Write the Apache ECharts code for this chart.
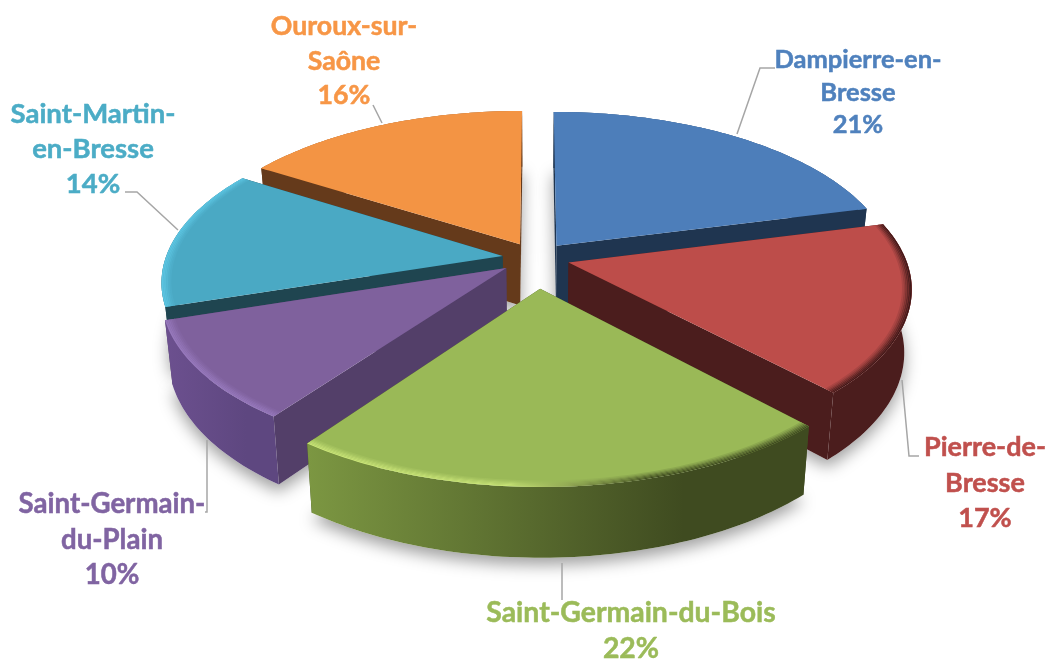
<!DOCTYPE html>
<html><head><meta charset="utf-8">
<style>html,body{margin:0;padding:0;background:#fff}#c{width:1051px;height:661px}</style>
<script src="https://cdn.jsdelivr.net/npm/echarts@6/dist/echarts.min.js"></script>
</head><body><div id="c"></div>
<script>
// ---- data ----
var categories = ['Dampierre-en-\nBresse', 'Pierre-de-\nBresse', 'Saint-Germain-du-Bois', 'Saint-Germain-\ndu-Plain', 'Saint-Martin-\nen-Bresse', 'Ouroux-sur-\nSaône'];
var values = [21, 17, 22, 10, 14, 16];
var explode = [0.1, 0.1, 0.19, 0.108, 0.1, 0.1];

// ---- colours ----
var topColors  = ['#4D7EBA', '#BD4D4A', '#9AB957', '#7F619D', '#4AA9C4', '#F39444'];
var sideColors = ['#1F3550', '#4B1D1D', '#414D21', '#533F69', '#1F4550', '#653A1B'];
var wallLeft   = ['#1F3550', '#4B1D1D', '#7C9742', '#6C508F', '#1F4550', '#653A1B'];
var wallRight  = ['#1F3550', '#4B1D1D', '#3F4B20', '#5E4780', '#3E93AB', '#653A1B'];
var rimLight   = ['#4D7EBA', '#BD4D4A', '#C8E377', '#9678BC', '#5CC5E2', '#F39444'];
var rimDark    = ['#4D7EBA', '#3F1818', '#3F4B20', '#533F69', '#1F4550', '#F39444'];
var labelColors = ['#4F81BD', '#C0504D', '#9BBB59', '#8064A2', '#4BACC6', '#F79646'];
var leaderColor = '#A6A6A6';

// ---- layout ----
var labelAt = [[858, 92.5], [985, 483], [631, 631], [112, 540], [93, 149], [344, 61]];
var labelFont = [25.5, 27, 28.4, 27.6, 27.5, 26.7];
var labelLine = [32.5, 35.5, 36, 35.5, 35, 34.5];
var leaders = [
  [[737, 134], [760, 68], [775, 68]],
  [[902, 380], [909, 456], [919, 456]],
  [[562, 563], [562, 600]],
  [[207, 440], [207, 512], [205, 512]],
  [[178, 230], [137, 192], [125, 192]],
  [[382, 123], [373, 105]]
];
var CX = 536, CY = 258, RX = 337, RY = 157.6, DEPTH = 6.57, H = 63, KZ = 0.02;
var RIM = 0.028, RIM_STRIPS = [0.15, 0.3, 0.5, 0.7, 0.85, 1];

// ---- geometry helpers ----
var total = values.reduce(function (a, b) { return a + b; }, 0);
var starts = [], acc = 0;
values.forEach(function (v) { starts.push(acc / total * Math.PI * 2); acc += v; });
function endAngle(i) { return starts[i] + values[i] / total * Math.PI * 2; }
function midAngle(i) { return (starts[i] + endAngle(i)) / 2; }
function world(i, a, r) {
  var m = midAngle(i);
  return [explode[i] * Math.sin(m) + r * Math.sin(a), -explode[i] * Math.cos(m) - r * Math.cos(a)];
}
function project(p, z) {
  var s = DEPTH / (DEPTH - p[1]) * (1 - KZ * z);
  return [CX + RX * p[0] * s, CY + RY * p[1] * s + H * z * s];
}
function pt(i, a, r, z) { return project(world(i, a, r), z); }
function arc(i, r, z) {
  var pts = [], a0 = starts[i], a1 = endAngle(i), n = Math.ceil((a1 - a0) / 0.02);
  for (var k = 0; k <= n; k++) pts.push(pt(i, a0 + (a1 - a0) * k / n, r, z));
  return pts;
}
function hex(c) { return [1, 3, 5].map(function (p) { return parseInt(c.substr(p, 2), 16); }); }
function mix(a, b, t) {
  var A = hex(a), B = hex(b);
  return 'rgb(' + A.map(function (v, j) { return Math.round(v + (B[j] - v) * t); }).join(',') + ')';
}
function hGrad(x0, x1, stops) {
  return { type: 'linear', x: x0, y: 0, x2: x1, y2: 0, global: true,
    colorStops: stops.map(function (s) { return { offset: s[0], color: s[1] }; }) };
}
var order = values.map(function (_, i) { return i; }).sort(function (a, b) {
  return -Math.cos(midAngle(a)) + Math.cos(midAngle(b));
});

function renderSlice(params, api) {
  var i = params.dataIndex, rank = order.indexOf(i), base = 100 * (rank + 1), kids = [];
  var apexT = pt(i, starts[i], 0, 0), apexB = pt(i, starts[i], 0, 1);
  var topArc = arc(i, 1, 0), botArc = arc(i, 1, 1);
  var midPt = pt(i, midAngle(i), 1, 0);

  // soft ground shadow, on the background only
  kids.push({ type: 'polygon', z2: 1, shape: { points: [apexB].concat(botArc) },
    style: { fill: '#fff', shadowBlur: 16, shadowColor: 'rgba(0,0,0,0.38)', shadowOffsetY: 7, shadowOffsetX: 0 } });

  // radial walls: a wall facing the viewer goes over the outer wall, a hidden one under it
  [[topArc[0], botArc[0]], [topArc[topArc.length - 1], botArc[botArc.length - 1]]].forEach(function (e) {
    var vx = e[0][0] - apexT[0], vy = e[0][1] - apexT[1];
    var cross = vx * (midPt[1] - apexT[1]) - vy * (midPt[0] - apexT[0]);
    var hidden = (cross > 0) === (vx > 0);
    kids.push({ type: 'polygon', z2: base + (hidden ? 1 : 3), shape: { points: [apexT, e[0], e[1], apexB] },
      style: { fill: sideColors[i] } });
  });

  // outer wall
  var xs = topArc.map(function (p) { return p[0]; });
  var x0 = Math.min.apply(null, xs), x1 = Math.max.apply(null, xs);
  kids.push({ type: 'polygon', z2: base + 2, shape: { points: topArc.concat(botArc.slice().reverse()) },
    style: { fill: hGrad(x0, x1 + 0.01, [[0, wallLeft[i]], [0.75, wallRight[i]], [1, wallRight[i]]]) } });

  // top surface
  kids.push({ type: 'polygon', z2: base + 4, shape: { points: [apexT].concat(topArc) },
    style: { fill: topColors[i] } });

  // bevel along the outer rim
  RIM_STRIPS.forEach(function (t, k) {
    var r0 = 1 - RIM + RIM * k / RIM_STRIPS.length;
    var pts = arc(i, r0, 0).concat(arc(i, r0 + RIM / RIM_STRIPS.length, 0).reverse());
    kids.push({ type: 'polygon', z2: base + 5 + k, shape: { points: pts },
      style: { fill: hGrad(160, 910, [
        [0, mix(topColors[i], rimLight[i], t)],
        [0.47, mix(topColors[i], rimLight[i], t)],
        [0.65, mix(topColors[i], rimDark[i], t)],
        [1, mix(topColors[i], rimDark[i], t)]
      ]) } });
  });

  // leader line
  kids.push({ type: 'polyline', z2: 900, shape: { points: leaders[i] },
    style: { stroke: leaderColor, lineWidth: 1.5, fill: 'none' } });

  // label
  kids.push({ type: 'text', z2: 1000, style: {
    text: categories[i] + '\n' + api.value(0) + '%',
    x: labelAt[i][0], y: labelAt[i][1], fill: labelColors[i],
    stroke: labelColors[i], lineWidth: 0.5,
    fontFamily: 'Lato', fontWeight: 'bold', fontSize: labelFont[i],
    lineHeight: labelLine[i], align: 'center', verticalAlign: 'middle'
  } });
  return { type: 'group', children: kids };
}

var chart = echarts.init(document.getElementById('c'), null, { renderer: 'canvas' });
chart.setOption({
  backgroundColor: '#fff',
  animation: false,
  series: [{
    type: 'custom', coordinateSystem: 'none', silent: true,
    renderItem: renderSlice,
    data: values.map(function (v) { return [v]; })
  }]
});
</script></body></html>
